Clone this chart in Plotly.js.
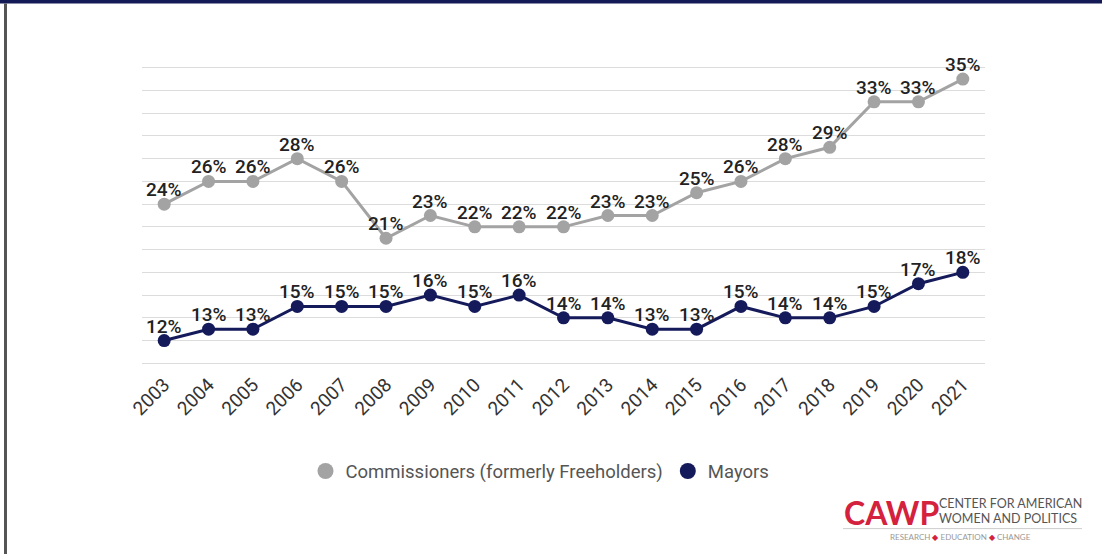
<!DOCTYPE html>
<html>
<head>
<meta charset="utf-8">
<script src="https://cdn.plot.ly/plotly-3.0.1.min.js"></script>
<style>
html,body{margin:0;padding:0;background:#fff;}
#chart{width:1102px;height:554px;}
</style>
</head>
<body>
<div id="chart"></div>
<script>
const years = ["2003","2004","2005","2006","2007","2008","2009","2010","2011","2012","2013","2014","2015","2016","2017","2018","2019","2020","2021"];
const commissioners = [24,26,26,28,26,21,23,22,22,22,23,23,25,26,28,29,33,33,35];
const mayors = [12,13,13,15,15,15,16,15,16,14,14,13,13,15,14,14,15,17,18];
const seriesNames = ["Commissioners (formerly Freeholders)", "Mayors"];
const seriesColors = ["#a3a3a3", "#141a5a"];

const labelFont = {family: "Roboto, sans-serif", size: 19, color: "#222", weight: 500};

function lineTrace(vals, i) {
  return {
    x: years, y: vals, type: "scatter", mode: "lines+markers",
    name: seriesNames[i],
    line: {color: seriesColors[i], width: 3},
    marker: {color: seriesColors[i], size: 13},
    showlegend: false, hoverinfo: "x+y", cliponaxis: false
  };
}
function legendTrace(i) {
  return {
    x: [null], y: [null], type: "scatter", mode: "markers",
    name: seriesNames[i], marker: {color: seriesColors[i], size: 22},
    showlegend: true
  };
}

const data = [lineTrace(commissioners,0), lineTrace(mayors,1), legendTrace(0), legendTrace(1)];

// value labels, placed from the data arrays (category index on the x axis)
function valueLabels(vals) {
  return vals.map((v, k) => ({
    x: k, y: v, xref: "x", yref: "y", text: v + "%",
    showarrow: false, yanchor: "bottom", xanchor: "center", yshift: 1,
    font: labelFont
  }));
}

// plot box in pixels (y range 9.5..36.5 -> gridlines 10..36 at 363..68)
const L = 142, R = 985, T = 62.3, B = 368.7;
const W = R - L, H = B - T;
const px = v => (v - L) / W;
const py = v => (B - v) / H;

const logo = [
  {xref: "paper", yref: "paper", x: px(842), y: py(512), xanchor: "left", yanchor: "middle",
   text: "<b>CAWP</b>", showarrow: false, font: {family: "Lato, sans-serif", size: 32, color: "#d4213d"}},
  {xref: "paper", yref: "paper", x: px(937), y: py(503), xanchor: "left", yanchor: "middle",
   text: "CENTER FOR AMERICAN", showarrow: false, font: {family: "Lato, sans-serif", size: 12.5, color: "#555"}},
  {xref: "paper", yref: "paper", x: px(937), y: py(518), xanchor: "left", yanchor: "middle",
   text: "WOMEN AND POLITICS", showarrow: false, font: {family: "Lato, sans-serif", size: 12.5, color: "#555"}},
  {xref: "paper", yref: "paper", x: px(960), y: py(536), xanchor: "center", yanchor: "middle",
   text: "RESEARCH <span style='color:#d4213d'>◆</span> EDUCATION <span style='color:#d4213d'>◆</span> CHANGE", showarrow: false,
   font: {family: "Lato, sans-serif", size: 8, color: "#999"}}
];

const layout = {
  width: 1102, height: 554,
  margin: {l: L, r: 1102 - R, t: T, b: 554 - B},
  paper_bgcolor: "#fff", plot_bgcolor: "#fff",
  font: {family: "Roboto, sans-serif", color: "#444"},
  xaxis: {
    type: "category", range: [-0.5, 18.5], showgrid: false, zeroline: false,
    tickangle: -45, tickfont: {family: "Roboto, sans-serif", size: 19, color: "#333"},
    ticks: "", showline: false, fixedrange: true
  },
  yaxis: {
    range: [9.5, 36.5], dtick: 2, tick0: 10, showticklabels: false,
    gridcolor: "#dcdcdc", gridwidth: 1, zeroline: false, showline: false, fixedrange: true
  },
  legend: {
    orientation: "h", x: px(540), xanchor: "center", y: py(471), yanchor: "middle",
    font: {family: "Roboto, sans-serif", size: 18.5, color: "#555"},
    itemsizing: "trace", traceorder: "normal"
  },
  shapes: [
    {type: "rect", xref: "paper", yref: "paper",
     x0: px(0), x1: px(1102), y0: py(0), y1: py(4),
     line: {width: 0}, fillcolor: "#141a55"},
    {type: "rect", xref: "paper", yref: "paper",
     x0: px(4), x1: px(7), y0: py(554), y1: py(4),
     line: {width: 0}, fillcolor: "#555"},
    {type: "line", xref: "paper", yref: "paper",
     x0: px(843), x1: px(1082), y0: py(528), y1: py(528),
     line: {width: 1, color: "#ccc"}}
  ],
  annotations: valueLabels(commissioners).concat(valueLabels(mayors), logo)
};

Plotly.newPlot("chart", data, layout, {displayModeBar: false, staticPlot: true});
</script>
</body>
</html>
